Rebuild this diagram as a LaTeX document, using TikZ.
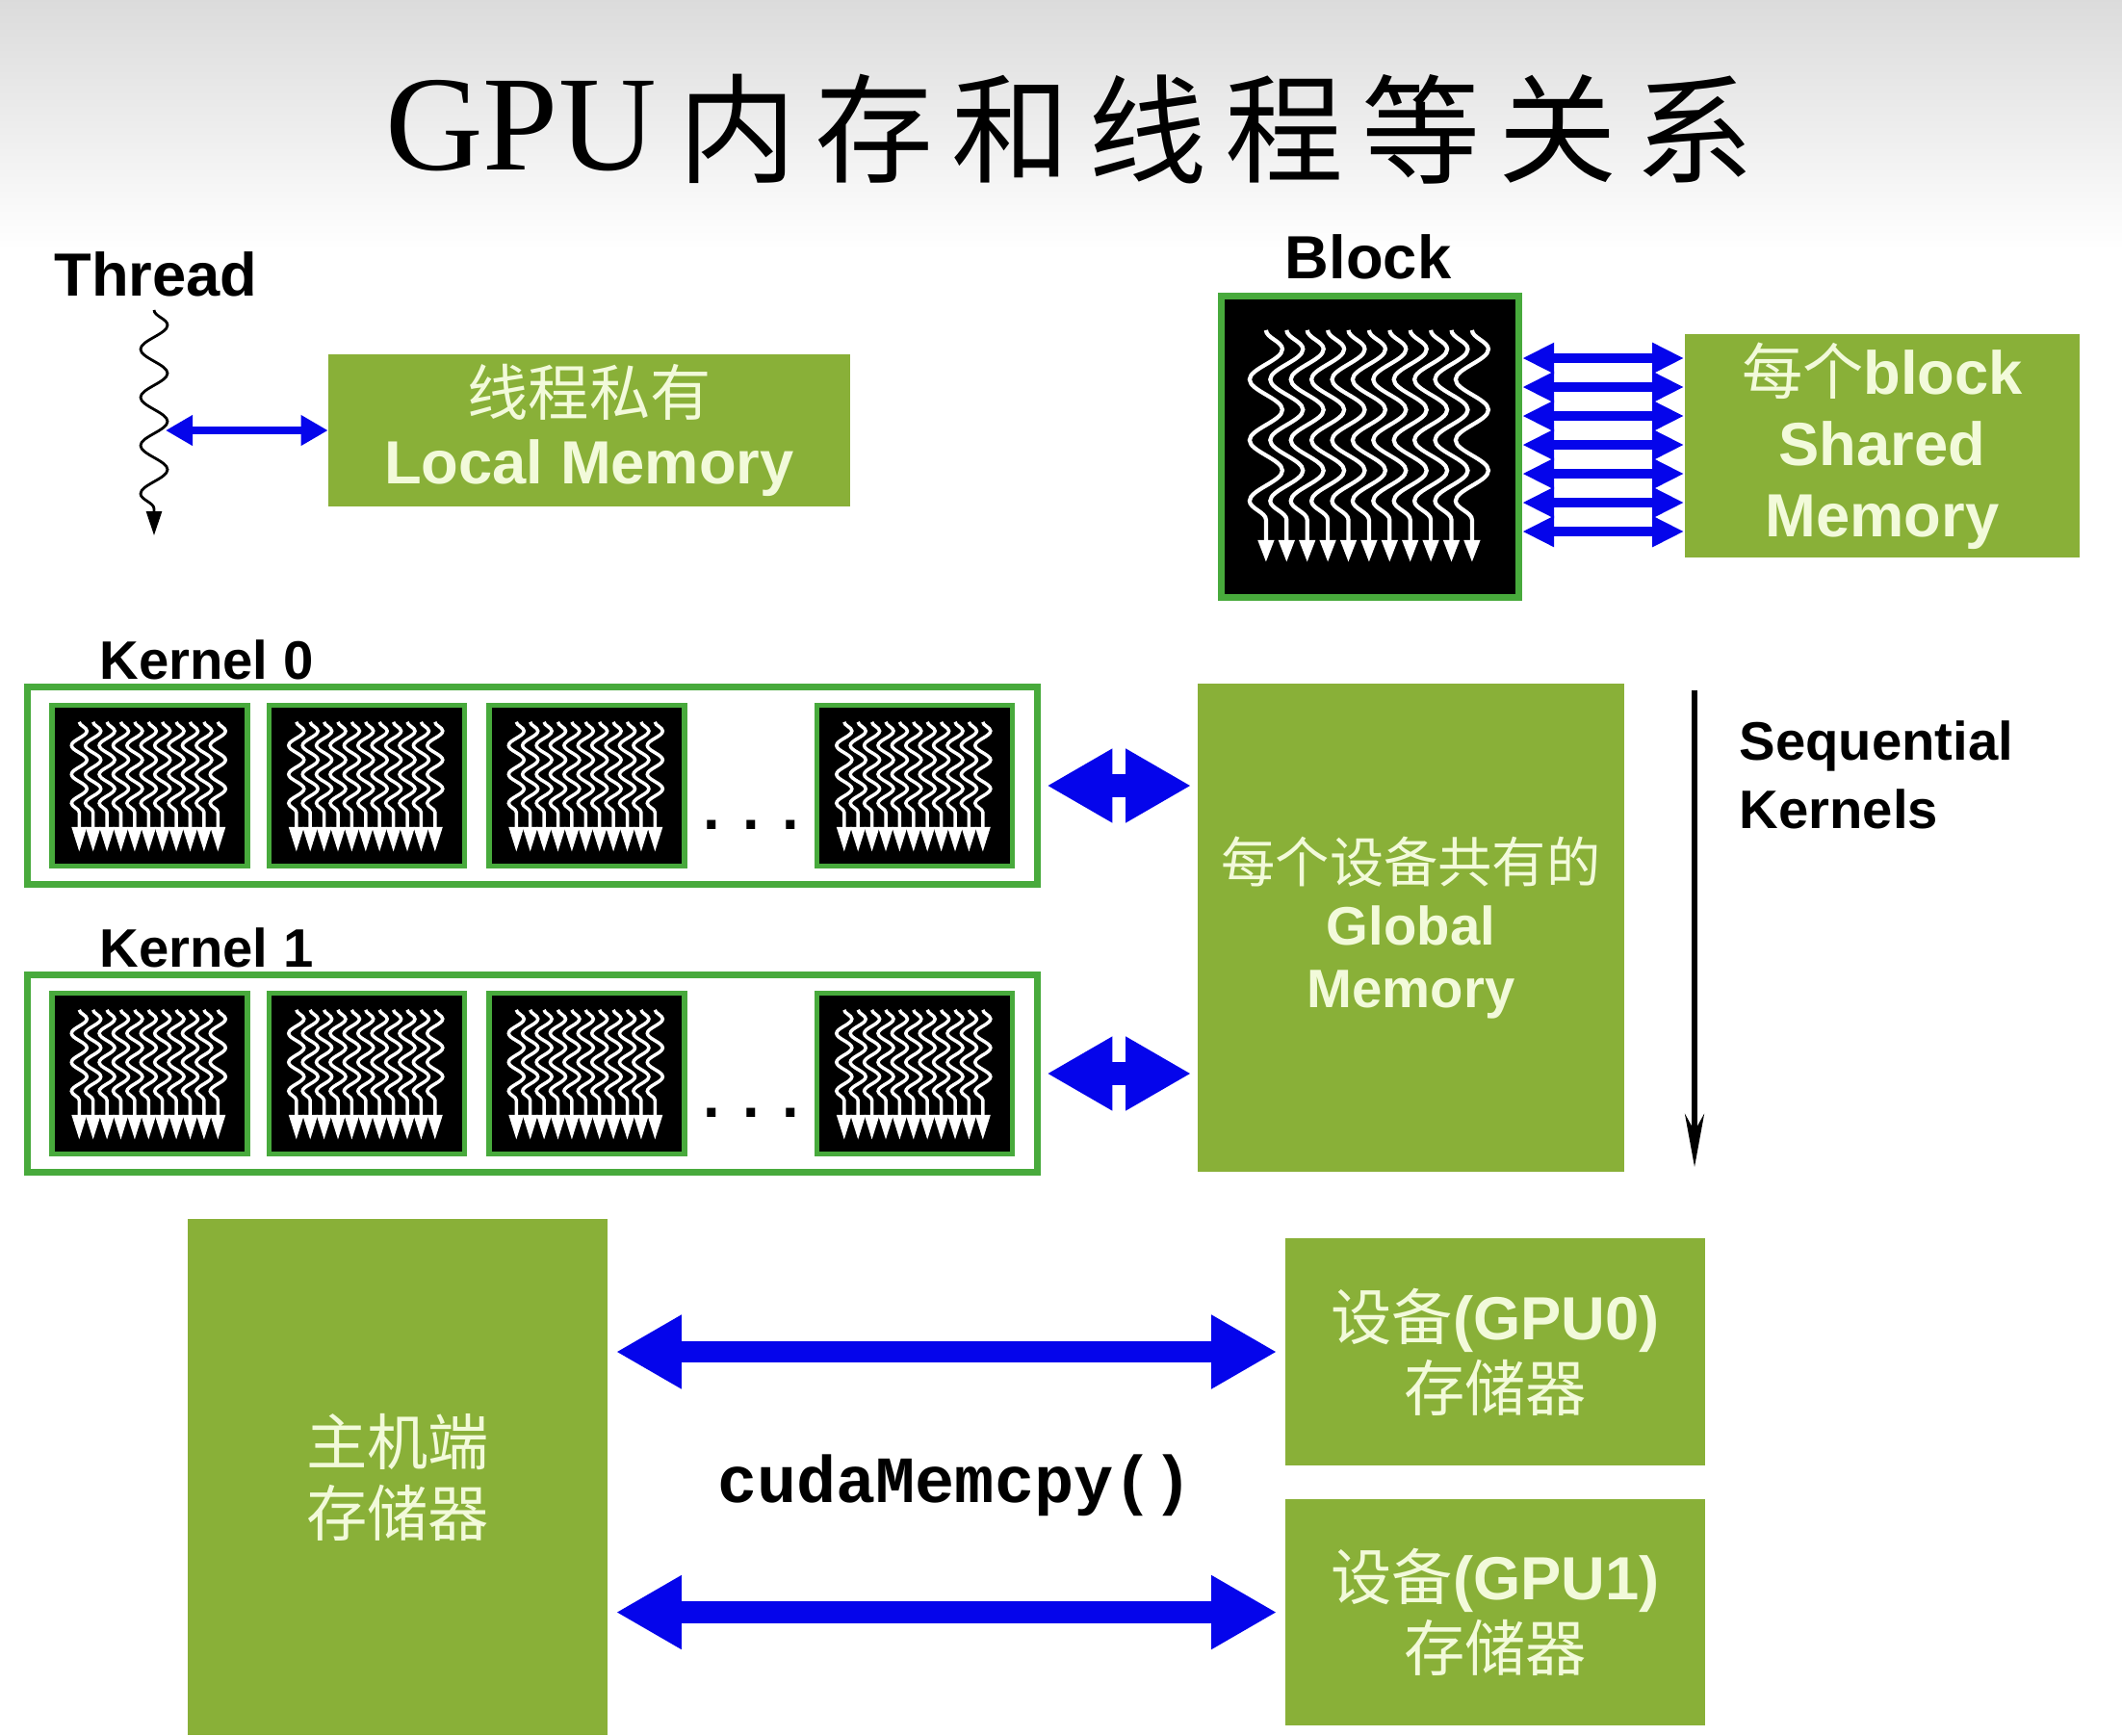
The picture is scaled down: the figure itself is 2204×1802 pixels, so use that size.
\documentclass[tikz,border=0pt]{standalone}
\usepackage{fontspec}
\setmainfont{Liberation Sans}
\setmonofont{Liberation Mono}
\newfontfamily\cjk{Noto Sans CJK SC}
\newfontfamily\gpuserif{Liberation Serif}
\usetikzlibrary{arrows.meta,calc,decorations.pathmorphing}
\definecolor{memgreen}{RGB}{137,176,56}
\definecolor{edgegreen}{RGB}{72,170,60}
\definecolor{linkblue}{RGB}{5,5,235}
\definecolor{memtext}{RGB}{242,250,218}
\newcommand{\zh}[1]{{\cjk\mdseries #1}}

\begin{document}
\begin{tikzpicture}[x=0.01cm, y=-0.01cm,
    mem/.style={fill=memgreen, text=memtext, align=center, inner sep=0pt,
      font=\bfseries\fontsize{18}{21}\selectfont},
    lbl/.style={font=\bfseries\fontsize{18}{20}\selectfont, inner sep=0pt},
    kframe/.style={draw=edgegreen, line width=2pt, fill=white, inner sep=0pt,
      minimum width=10.49cm, minimum height=2.04cm},
    blk/.style={draw=edgegreen, line width=1.5pt, fill=black, inner sep=0pt,
      minimum width=2.03cm, minimum height=1.67cm},
    thrs/.style={white, line width=1pt, decorate,
      decoration={snake, amplitude=0.08cm, segment length=0.3cm, post length=0.3cm},
      -{Triangle[length=0.26cm, width=0.15cm]}},
    bthr/.style={white, line width=1.2pt, decorate,
      decoration={snake, amplitude=0.17cm, segment length=0.63cm, post length=0.27cm},
      -{Triangle[length=0.23cm, width=0.16cm]}},
    wthr/.style={black, line width=0.8pt, decorate,
      decoration={snake, amplitude=0.14cm, segment length=0.5cm, post length=0.16cm},
      -{Triangle[length=0.25cm, width=0.16cm]}},
    tlink/.style={draw=linkblue, line width=2.3pt, >={Triangle[length=0.28cm, width=0.3cm]}, <->},
    slink/.style={draw=linkblue, line width=3pt, >={Triangle[length=0.33cm, width=0.3cm]}, <->},
    glink/.style={draw=linkblue, line width=6.8pt, >={Triangle[length=0.68cm, width=0.72cm]}, <->,
      shorten <=0.06cm, shorten >=0.06cm},
    hlink/.style={draw=linkblue, line width=6.3pt, >={Triangle[length=0.68cm, width=0.72cm]}, <->,
      shorten <=0.08cm, shorten >=0.08cm},
    seq/.style={black, line width=1.6pt, -{Stealth[length=0.55cm, width=0.2cm]}}]
  \fill[white] (0,0) rectangle (2204,1802);
  \shade[top color=gray!28, bottom color=white] (0,0) rectangle (2204,260);
  \useasboundingbox (0,0) rectangle (2204,1802);

  \node[font=\gpuserif\fontsize{40}{40}\selectfont, inner sep=0pt] (gpu) at (541,131) {GPU};
  \foreach \c [count=\i from 0] in {内,存,和,线,程,等,关,系}
    \node[font=\cjk\fontsize{35}{35}\selectfont, inner sep=0pt] (t\i) at (766+142*\i,134) {\c};

  \node[lbl] (thread) at (162,285) {Thread};
  \coordinate (thrtop) at (160,322);
  \coordinate (thrbot) at (160,556);
  \coordinate (thrmid) at (172,447);
  \draw[wthr] (thrtop) -- (thrbot);
  \node[mem, font=\bfseries\fontsize{18}{20}\selectfont, minimum width=5.41cm, minimum height=1.58cm]
    (local) at (612,447) {\zh{线程私有}\\Local Memory};
  \draw[tlink] (thrmid) -- (local.west);

  \node[lbl] (blocklbl) at (1421,267) {Block};
  \node[fill=black, draw=edgegreen, line width=2pt, inner sep=0pt,
    minimum width=3.09cm, minimum height=3.13cm] (block) at (1423,464) {};
  \foreach \j in {0,...,10}
    \draw[bthr] ($(block.north west)+(50+21.4*\j,39)$) -- ++(0,241);
  \node[mem, minimum width=4.10cm, minimum height=2.32cm] (shared) at (1955,463)
    {\zh{每个}block\\Shared\\Memory};
  \foreach \k [evaluate=\k as \yy using 372+30*\k] in {0,...,6}
    \draw[slink] (block.east |- 0,\yy) -- (shared.west |- 0,\yy);

  \node[mem, font=\bfseries\fontsize{16}{18.5}\selectfont, minimum width=4.43cm, minimum height=5.07cm]
    (glob) at (1465.5,963.5) {\zh{每个设备共有的}\\Global\\Memory};

  \foreach \kn/\ky in {0/816, 1/1115} {
    \node[kframe] (k\kn) at (553,\ky) {};
    \node[lbl, font=\bfseries\fontsize{16}{18}\selectfont, anchor=south west]
      (klbl\kn) at ($(k\kn.north west)+(78,-4)$) {Kernel \kn};
    \foreach \b/\bx in {1/155.5, 2/381, 3/609.5, 4/950} {
      \node[blk] (kb\kn\b) at (\bx,\ky) {};
      \foreach \j in {0,...,10}
        \draw[thrs] ($(kb\kn\b.north west)+(31+14.4*\j,20)$) -- ++(0,135);
    }
    \node[lbl] (kdots\kn) at (780,\ky+41) {. . .};
    \draw[glink] (k\kn.east) -- (k\kn.east -| glob.west);
  }

  \coordinate (seqtop) at (1760,717);
  \coordinate (seqbot) at (1760,1212);
  \draw[seq] (seqtop) -- (seqbot);
  \node[lbl, font=\bfseries\fontsize{16}{20}\selectfont, align=left, anchor=west]
    (seqlbl) at (1806,805) {Sequential\\Kernels};

  \node[mem, minimum width=4.36cm, minimum height=5.36cm] (host) at (413,1534)
    {\zh{主机端}\\\zh{存储器}};
  \node[mem, minimum width=4.36cm, minimum height=2.36cm] (gpu0) at (1553,1404)
    {\zh{设备}(GPU0)\\\zh{存储器}};
  \node[mem, minimum width=4.36cm, minimum height=2.35cm] (gpu1) at (1553,1674.5)
    {\zh{设备}(GPU1)\\\zh{存储器}};
  \draw[hlink] (host.east |- gpu0.west) -- (gpu0.west);
  \draw[hlink] (host.east |- gpu1.west) -- (gpu1.west);
  \node[font=\ttfamily\bfseries\fontsize{19.5}{20}\selectfont, inner sep=0pt] (memcpy) at (992,1543)
    {cudaMemcpy()};
\end{tikzpicture}
\end{document}
